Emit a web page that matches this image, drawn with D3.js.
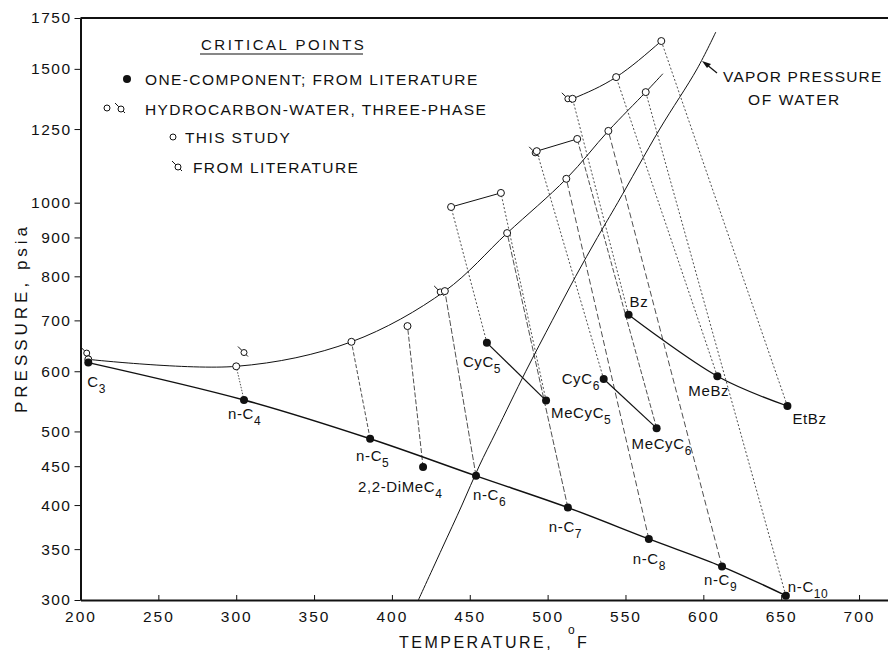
<!DOCTYPE html>
<html lang="en">
<head>
<meta charset="UTF-8">
<title>Critical points, hydrocarbon-water</title>
<script src="https://d3js.org/d3.v7.min.js"></script>
<style>
  body { margin: 0; background: #fff; }
  text { font-family: "Liberation Sans", Arial, sans-serif; fill: #111; }
</style>
</head>
<body>
<script>
// ---- data ----
const names   = ["C3","n-C4","n-C5","2,2-DiMeC4","n-C6","n-C7","n-C8","n-C9","n-C10",
                 "CyC5","MeCyC5","CyC6","MeCyC6","Bz","MeBz","EtBz"];
// one-component critical points (filled dots)
const pureT   = [205, 305, 386, 420, 454, 513, 565, 612, 653, 461, 499, 536, 570, 552, 609, 654];
const pureP   = [616, 550, 489, 449, 437, 397, 361, 332, 304, 654, 549, 586, 505, 712, 591, 540];
// three-phase critical points, this study (open circles)
const threeT  = [205, 300, 374, 410, 434, 474, 512, 539, 563, 438, 470, 493, 519, 516, 544, 573];
const threeP  = [622, 609, 656, 688, 765, 912, 1075, 1243, 1398, 987, 1030, 1169, 1213, 1370, 1463, 1632];
// three-phase critical points from literature
const litT    = [204, 305, 431, 492, 513];
const litP    = [634, 635, 763, 1163, 1370];
// where the paraffin three-phase curve is carried on past n-C10
const curveEndT = 574, curveEndP = 1478;
// vapor pressure of water
const waterT  = [417, 432, 445, 456, 467, 486, 503, 518, 532, 545, 572, 596, 608];
const waterP  = [300, 350, 400, 450, 500, 600, 700, 800, 900, 1000, 1250, 1500, 1677];
// families joined by a line
const paraffins = [0, 1, 2, 4, 5, 6, 7, 8];
const cyclics   = [[9, 10], [11, 12], [13, 14, 15]];

const xTicks = [200, 250, 300, 350, 400, 450, 500, 550, 600, 650, 700];
const yTicks = [300, 350, 400, 450, 500, 600, 700, 800, 900, 1000, 1250, 1500, 1750];

// label placement / tie line dash (layout only)
const labelPos = {
  "C3": [-1, 24], "n-C4": [-16, 19], "n-C5": [-14, 22], "2,2-DiMeC4": [-65, 25],
  "n-C6": [-3, 24], "n-C7": [-19, 24], "n-C8": [-16, 25], "n-C9": [-18, 18],
  "n-C10": [2, -4], "CyC5": [-24, 24], "MeCyC5": [5, 17], "CyC6": [-42, 5],
  "MeCyC6": [-25, 21], "Bz": [1, -8], "MeBz": [-29, 20], "EtBz": [5, 18]
};
const tieDash = ["2,2", "1.5,1.5", "4,2", "5,2", "6,2", "6,2", "6,3", "6,3", "2,2",
                 "2,2", "2,2", "2,2", "5,2", "2,2", "2,2", "2,2"];

const width = 888, height = 652;

const x = d3.scaleLinear().domain([200, 718.6]).range([80.5, 888]);
const y = d3.scaleLog().domain([300, 1750]).range([600, 18]);

const svg = d3.select("body").append("svg")
  .attr("width", width).attr("height", height);

// frame
svg.append("line").attr("x1", 80.5).attr("x2", 888).attr("y1", 18).attr("y2", 18)
  .attr("stroke", "#111").attr("stroke-width", 2);

const gx = svg.append("g").attr("transform", "translate(0,600)")
  .call(d3.axisBottom(x).tickValues(xTicks).tickFormat(d3.format("d"))
        .tickSizeInner(-5).tickSizeOuter(0).tickPadding(11));
gx.select(".domain").attr("stroke", "#111").attr("stroke-width", 2);
gx.selectAll(".tick line").attr("stroke", "#111");
gx.selectAll("text").attr("font-size", 15.5).attr("letter-spacing", 2).attr("fill", "#111");

const gy = svg.append("g").attr("transform", "translate(80.5,0)")
  .call(d3.axisLeft(y).tickValues(yTicks).tickFormat(d3.format("d"))
        .tickSize(6).tickSizeOuter(0).tickPadding(3));
gy.select(".domain").attr("stroke", "#111").attr("stroke-width", 2);
gy.selectAll(".tick line").attr("stroke", "#111");
gy.selectAll("text").attr("font-size", 15.5).attr("letter-spacing", 1.5).attr("fill", "#111");

// axis titles
svg.append("text").attr("x", 399).attr("y", 648)
  .attr("font-size", 16).attr("letter-spacing", 2.5).text("TEMPERATURE,");
svg.append("text").attr("x", 568).attr("y", 634).attr("font-size", 12).text("o");
svg.append("text").attr("x", 577).attr("y", 648).attr("font-size", 16).text("F");

svg.append("text")
  .attr("transform", "translate(27,318) rotate(-90)")
  .attr("text-anchor", "middle")
  .attr("font-size", 17).attr("letter-spacing", 4)
  .text("PRESSURE, psia");

// helpers
const px = (T) => x(T), py = (P) => y(P);
const line = d3.line().curve(d3.curveCatmullRom.alpha(0.5));

// tie lines: one-component point to its three-phase point
svg.append("g").selectAll("line").data(names).join("line")
  .attr("x1", (d, i) => px(pureT[i])).attr("y1", (d, i) => py(pureP[i]))
  .attr("x2", (d, i) => px(threeT[i])).attr("y2", (d, i) => py(threeP[i]))
  .attr("stroke", "#222").attr("stroke-width", 0.8)
  .attr("stroke-dasharray", (d, i) => tieDash[i]);

// vapor pressure of water
svg.append("path")
  .attr("d", line(waterT.map((t, i) => [px(t), py(waterP[i])])))
  .attr("fill", "none").attr("stroke", "#111").attr("stroke-width", 1);

// n-paraffin one-component line
svg.append("path")
  .attr("d", line(paraffins.map(i => [px(pureT[i]), py(pureP[i])])))
  .attr("fill", "none").attr("stroke", "#111").attr("stroke-width", 1.4);

// three-phase curve for paraffins
const mainPts = paraffins.map(i => [px(threeT[i]), py(threeP[i])]);
mainPts.push([px(curveEndT), py(curveEndP)]);
svg.append("path").attr("d", line(mainPts))
  .attr("fill", "none").attr("stroke", "#111").attr("stroke-width", 1);

// cyclic / aromatic families
cyclics.forEach(grp => {
  svg.append("path")
    .attr("d", line(grp.map(i => [px(pureT[i]), py(pureP[i])])))
    .attr("fill", "none").attr("stroke", "#111").attr("stroke-width", 1.2);
  svg.append("path")
    .attr("d", d3.line().curve(d3.curveNatural)(grp.map(i => [px(threeT[i]), py(threeP[i])])))
    .attr("fill", "none").attr("stroke", "#111").attr("stroke-width", 1);
});

// literature three-phase markers
function litMark(g) {
  g.append("path").attr("d", "M-6,-6L-2.2,-2.2M2.2,2.2L4,4")
    .attr("stroke", "#111").attr("stroke-width", 1);
  g.append("circle").attr("r", 3).attr("fill", "#fff")
    .attr("stroke", "#111").attr("stroke-width", 1);
}
svg.append("g").selectAll("g").data(litT).join("g")
  .attr("transform", (d, i) => `translate(${px(d)},${py(litP[i])})`)
  .each(function () { litMark(d3.select(this)); });

// this-study three-phase open circles
svg.append("g").selectAll("circle").data(threeT).join("circle")
  .attr("cx", d => px(d)).attr("cy", (d, i) => py(threeP[i]))
  .attr("r", 3.5).attr("fill", "#fff").attr("stroke", "#111").attr("stroke-width", 1);

// one-component filled dots
svg.append("g").selectAll("circle").data(pureT).join("circle")
  .attr("cx", d => px(d)).attr("cy", (d, i) => py(pureP[i]))
  .attr("r", 4).attr("fill", "#111");

// compound labels, trailing digits as subscripts
const lab = svg.append("g").selectAll("text").data(names).join("text")
  .attr("x", (d, i) => px(pureT[i]) + labelPos[d][0])
  .attr("y", (d, i) => py(pureP[i]) + labelPos[d][1])
  .attr("font-size", 15).attr("letter-spacing", 0.6);
lab.each(function (d) {
  const m = d.match(/^(.*?)(\d+)$/);
  const t = d3.select(this);
  if (m) {
    t.append("tspan").text(m[1]);
    t.append("tspan").attr("dy", 6).attr("font-size", 12).text(m[2]);
  } else {
    t.text(d);
  }
});

// legend
const leg = svg.append("g");
leg.append("text").attr("x", 201).attr("y", 50).attr("font-size", 15)
  .attr("letter-spacing", 2.5).text("CRITICAL POINTS");
leg.append("line").attr("x1", 200).attr("x2", 363).attr("y1", 54).attr("y2", 54)
  .attr("stroke", "#111").attr("stroke-width", 1.2);

leg.append("circle").attr("cx", 127).attr("cy", 79).attr("r", 4).attr("fill", "#111");
leg.append("text").attr("x", 145).attr("y", 85).attr("font-size", 15.5)
  .attr("letter-spacing", 1.4).text("ONE-COMPONENT; FROM LITERATURE");

leg.append("circle").attr("cx", 107).attr("cy", 108).attr("r", 3)
  .attr("fill", "#fff").attr("stroke", "#111");
litMark(leg.append("g").attr("transform", "translate(121,109)"));
leg.append("text").attr("x", 145).attr("y", 115).attr("font-size", 15.5)
  .attr("letter-spacing", 1.4).text("HYDROCARBON-WATER, THREE-PHASE");

leg.append("circle").attr("cx", 173).attr("cy", 137).attr("r", 3)
  .attr("fill", "#fff").attr("stroke", "#111");
leg.append("text").attr("x", 185).attr("y", 143).attr("font-size", 15.5)
  .attr("letter-spacing", 1.4).text("THIS STUDY");

litMark(leg.append("g").attr("transform", "translate(178,167)"));
leg.append("text").attr("x", 193).attr("y", 173).attr("font-size", 15.5)
  .attr("letter-spacing", 1.4).text("FROM LITERATURE");

// water annotation
svg.append("line").attr("x1", 717).attr("y1", 73).attr("x2", 706).attr("y2", 64)
  .attr("stroke", "#111").attr("stroke-width", 1.2);
svg.append("path").attr("d", "M702,61 L711,64 L707,68 Z").attr("fill", "#111");
svg.append("text").attr("x", 723).attr("y", 82).attr("font-size", 15.5)
  .attr("letter-spacing", 1.2).text("VAPOR PRESSURE");
svg.append("text").attr("x", 748).attr("y", 105).attr("font-size", 15.5)
  .attr("letter-spacing", 1.6).text("OF WATER");
</script>
</body>
</html>
